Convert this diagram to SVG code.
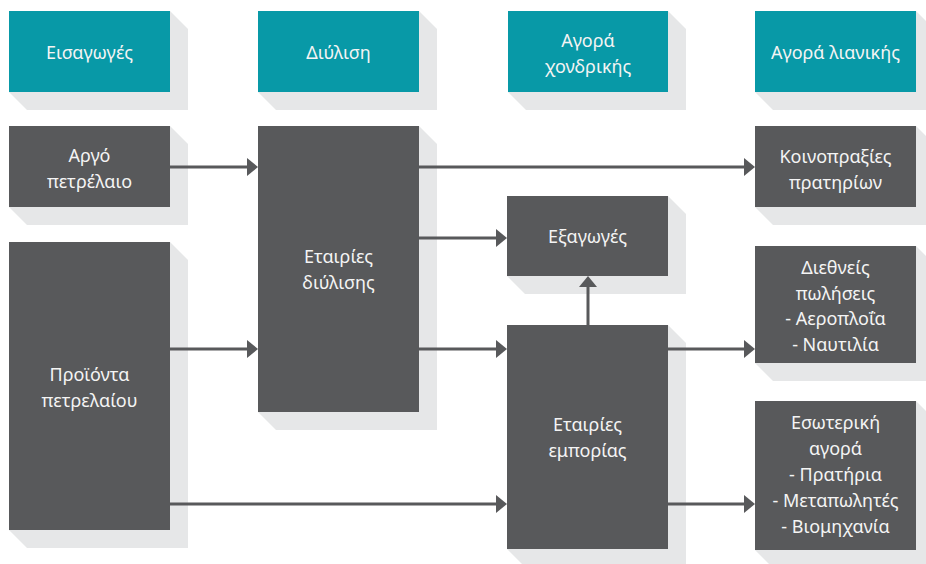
<svg xmlns="http://www.w3.org/2000/svg" width="926" height="564" viewBox="0 0 926 564">
<style>
.sh{fill:#e6e7e8}
.hd{fill:#0899a7}
.bx{fill:#58595b}
text{font-family:"Noto Sans","DejaVu Sans",sans-serif;font-size:18px;fill:#f4f4f4;text-anchor:middle}
.cn{stroke:#58595b;stroke-width:3;fill:none;marker-end:url(#ah)}
</style>
<defs>
<marker id="ah" markerUnits="userSpaceOnUse" markerWidth="11" markerHeight="18" refX="6" refY="9" orient="auto">
<path d="M0,0 L11,9 L0,18 Z" fill="#58595b"/>
</marker>
</defs>
<rect width="926" height="564" fill="#ffffff"/>
<g id="h-eisagoges">
<polygon class="sh" points="170,11 188,29 188,110 27,110 9,92"/>
<rect class="hd" x="9" y="11" width="161" height="81"/>
<text x="89.5" y="59">Εισαγωγές</text>
</g>
<g id="h-diylisi">
<polygon class="sh" points="419,11 437,29 437,110 276,110 258,92"/>
<rect class="hd" x="258" y="11" width="161" height="81"/>
<text x="338.5" y="59">Διύλιση</text>
</g>
<g id="h-xondriki">
<polygon class="sh" points="668,11 686,29 686,110 526,110 508,92"/>
<rect class="hd" x="508" y="11" width="160" height="81"/>
<text x="588" y="47">Αγορά</text>
<text x="588" y="72.5">χονδρικής</text>
</g>
<g id="h-lianiki">
<polygon class="sh" points="916,11 934,29 934,110 773,110 755,92"/>
<rect class="hd" x="755" y="11" width="161" height="81"/>
<text x="835.5" y="59">Αγορά λιανικής</text>
</g>
<g id="argo">
<polygon class="sh" points="170,126 188,144 188,225 27,225 9,207"/>
<rect class="bx" x="9" y="126" width="161" height="81"/>
<text x="89.5" y="162">Αργό</text>
<text x="89.5" y="188">πετρέλαιο</text>
</g>
<g id="proionta">
<polygon class="sh" points="170,242 188,260 188,548 27,548 9,530"/>
<rect class="bx" x="9" y="242" width="161" height="288"/>
<text x="89.5" y="381">Προϊόντα</text>
<text x="89.5" y="407">πετρελαίου</text>
</g>
<g id="diylisi">
<polygon class="sh" points="419,126 437,144 437,430 276,430 258,412"/>
<rect class="bx" x="258" y="126" width="161" height="286"/>
<text x="338.5" y="263">Εταιρίες</text>
<text x="338.5" y="289">διύλισης</text>
</g>
<g id="exagoges">
<polygon class="sh" points="668,196 686,214 686,294 525,294 507,276"/>
<rect class="bx" x="507" y="196" width="161" height="80"/>
<text x="587.5" y="243">Εξαγωγές</text>
</g>
<g id="emporia">
<polygon class="sh" points="668,325 686,343 686,567 525,567 507,549"/>
<rect class="bx" x="507" y="325" width="161" height="224"/>
<text x="587.5" y="431">Εταιρίες</text>
<text x="587.5" y="457">εμπορίας</text>
</g>
<g id="koinopraxies">
<polygon class="sh" points="916,126 934,144 934,225 773,225 755,207"/>
<rect class="bx" x="755" y="126" width="161" height="81"/>
<text x="835.5" y="163">Κοινοπραξίες</text>
<text x="835.5" y="189">πρατηρίων</text>
</g>
<g id="diethneis">
<polygon class="sh" points="916,246 934,264 934,381 773,381 755,363"/>
<rect class="bx" x="755" y="246" width="161" height="117"/>
<text x="835.5" y="274">Διεθνείς</text>
<text x="835.5" y="299.5">πωλήσεις</text>
<text x="835.5" y="325">- Αεροπλοΐα</text>
<text x="835.5" y="350.5">- Ναυτιλία</text>
</g>
<g id="esoteriki">
<polygon class="sh" points="916,401 934,419 934,568 773,568 755,550"/>
<rect class="bx" x="755" y="401" width="161" height="149"/>
<text x="835.5" y="429">Εσωτερική</text>
<text x="835.5" y="455">αγορά</text>
<text x="835.5" y="481">- Πρατήρια</text>
<text x="835.5" y="507">- Μεταπωλητές</text>
<text x="835.5" y="533">- Βιομηχανία</text>
</g>
<g id="connectors">
<line class="cn" x1="170" y1="167" x2="253" y2="167"/>
<line class="cn" x1="419" y1="167" x2="750" y2="167"/>
<line class="cn" x1="419" y1="238" x2="502" y2="238"/>
<line class="cn" x1="170" y1="349" x2="253" y2="349"/>
<line class="cn" x1="419" y1="349" x2="502" y2="349"/>
<line class="cn" x1="668" y1="349" x2="750" y2="349"/>
<line class="cn" x1="170" y1="504" x2="502" y2="504"/>
<line class="cn" x1="668" y1="504" x2="750" y2="504"/>
<line class="cn" x1="588" y1="325" x2="588" y2="281"/>
</g>
</svg>
